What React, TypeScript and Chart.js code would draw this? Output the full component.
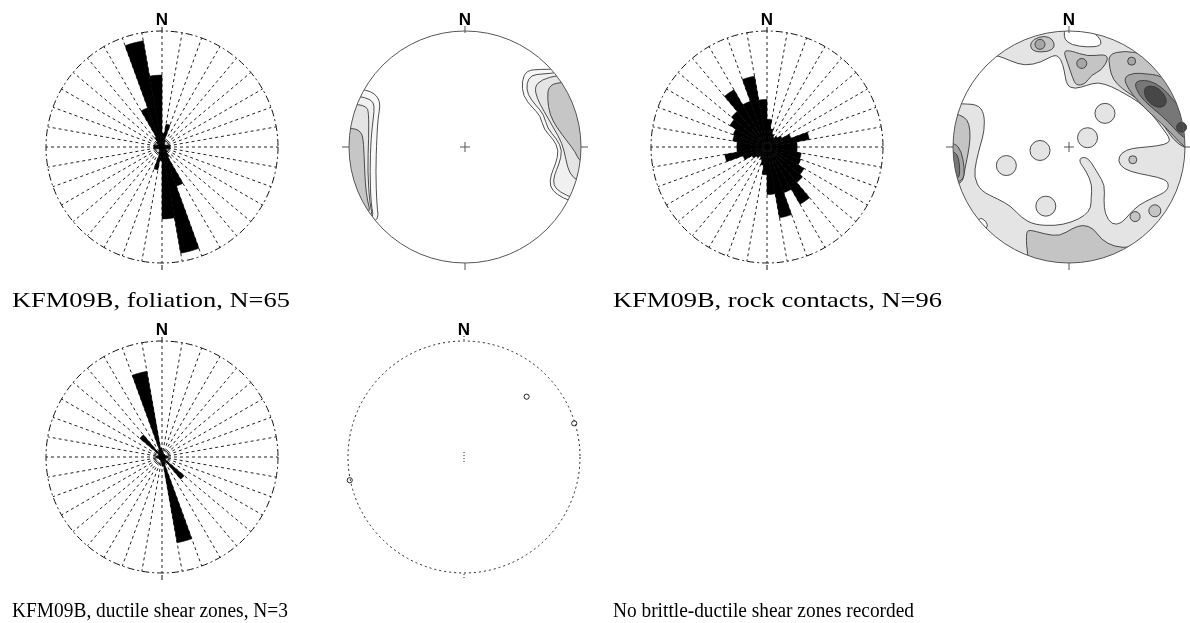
import { useEffect, useRef } from 'react';
import { Chart, registerables } from 'chart.js';

Chart.register(...registerables);

// 10° strike classes from 0° to 170°; each class is drawn again 180° opposite.
const strikeClasses = [0, 10, 20, 30, 40, 50, 60, 70, 80, 90, 100, 110, 120, 130, 140, 150, 160, 170];
const roseLabels = [...strikeClasses, ...strikeClasses.map((s) => s + 180)].map((s) => `${s}–${s + 10}°`);

// Relative class lengths (1 = outer circle), one per strike class above.
const foliationRose = [0.12, 0.2, 0.06, 0.04, 0.03, 0.03, 0.04, 0.05, 0.07, 0.07, 0.05, 0.04, 0.05, 0.06, 0.1, 0.36, 0.93, 0.62];
const rockContactRose = [0.24, 0.16, 0.12, 0.1, 0.12, 0.15, 0.22, 0.37, 0.26, 0.26, 0.3, 0.31, 0.37, 0.4, 0.57, 0.42, 0.62, 0.41];
const ductileShearRose = [0.05, 0.04, 0.03, 0.03, 0.03, 0.03, 0.03, 0.04, 0.05, 0.05, 0.04, 0.03, 0.04, 0.25, 0.05, 0.06, 0.75, 0.08];

// Contour shades, lowest to highest density.
const shade1 = ['#f8f8f8', '#f0f0f0', '#e4e4e4', '#c6c6c6'];
const shade2 = ['#e4e4e4', '#c4c4c4', '#a6a6a6', '#777777', '#474747'];

// Pole density contours, foliation (x = east, y = north, unit circle).
const foliationEast1 = [[0.85, 0.75], [0.79, 0.67], [0.65, 0.67], [0.53, 0.66], [0.49, 0.57], [0.5, 0.44], [0.58, 0.34], [0.65, 0.27], [0.68, 0.15], [0.76, 0.07], [0.81, -0.03], [0.78, -0.15], [0.74, -0.24], [0.73, -0.34], [0.79, -0.41], [0.91, -0.47], [1.1, -0.5], [1.1, 0.75]];
const foliationEast2 = [[0.86, 0.7], [0.8, 0.64], [0.67, 0.63], [0.57, 0.62], [0.53, 0.55], [0.54, 0.45], [0.61, 0.36], [0.68, 0.28], [0.71, 0.16], [0.79, 0.07], [0.84, -0.03], [0.81, -0.15], [0.77, -0.24], [0.76, -0.33], [0.82, -0.39], [0.93, -0.44], [1.1, -0.5], [1.1, 0.7]];
const foliationEast3 = [[0.8, 0.62], [0.66, 0.58], [0.6, 0.52], [0.62, 0.42], [0.68, 0.31], [0.76, 0.17], [0.84, 0.03], [0.87, -0.11], [0.9, -0.23], [0.98, -0.3], [1.1, -0.3], [1.1, 0.62]];
const foliationEast4 = [[0.8, 0.56], [0.72, 0.52], [0.71, 0.42], [0.73, 0.28], [0.79, 0.17], [0.88, 0.05], [0.95, -0.04], [0.99, -0.13], [1.1, -0.15], [1.1, 0.56]];
const foliationWest1 = [[-1.1, 0.55], [-0.91, 0.5], [-0.81, 0.48], [-0.75, 0.43], [-0.73, 0.36], [-0.75, 0.25], [-0.76, 0.08], [-0.77, -0.21], [-0.76, -0.5], [-0.74, -0.66], [-1.1, -0.7]];
const foliationWest2 = [[-1.1, 0.46], [-0.92, 0.44], [-0.81, 0.41], [-0.78, 0.36], [-0.79, 0.25], [-0.81, 0.08], [-0.82, -0.21], [-0.81, -0.5], [-0.78, -0.64], [-1.1, -0.66]];
const foliationWest3 = [[-1.1, 0.38], [-0.94, 0.37], [-0.85, 0.35], [-0.83, 0.3], [-0.83, 0.08], [-0.84, -0.21], [-0.82, -0.5], [-0.79, -0.61], [-1.1, -0.64]];
const foliationWest4 = [[-1.1, 0.17], [-0.98, 0.16], [-0.92, 0.15], [-0.88, 0.1], [-0.87, -0.06], [-0.86, -0.32], [-0.84, -0.47], [-0.81, -0.58], [-1.1, -0.62]];

// Pole density contours, rock contacts.
const contactBase = [[-1.2, -1.2], [1.2, -1.2], [1.2, 1.2], [-1.2, 1.2]];
const contactEmpty = [[-1.1, 0.4], [-0.96, 0.37], [-0.79, 0.37], [-0.73, 0.29], [-0.73, 0.14], [-0.76, 0.03], [-0.8, -0.12], [-0.82, -0.26], [-0.76, -0.38], [-0.61, -0.45], [-0.5, -0.51], [-0.41, -0.61], [-0.3, -0.67], [-0.12, -0.68], [0.02, -0.65], [0.14, -0.59], [0.19, -0.52], [0.19, -0.44], [0.2, -0.33], [0.15, -0.21], [0.09, -0.13], [0.1, -0.09], [0.15, -0.09], [0.19, -0.13], [0.25, -0.23], [0.31, -0.33], [0.3, -0.46], [0.31, -0.58], [0.37, -0.67], [0.45, -0.66], [0.52, -0.58], [0.6, -0.5], [0.72, -0.44], [0.85, -0.38], [0.86, -0.3], [0.77, -0.26], [0.6, -0.23], [0.47, -0.19], [0.42, -0.12], [0.45, -0.05], [0.54, -0.01], [0.68, 0.0], [0.83, 0.02], [0.88, 0.06], [0.8, 0.17], [0.71, 0.29], [0.6, 0.39], [0.48, 0.46], [0.37, 0.52], [0.25, 0.56], [0.15, 0.53], [0.05, 0.5], [-0.02, 0.53], [-0.04, 0.66], [-0.07, 0.76], [-0.12, 0.8], [-0.24, 0.73], [-0.38, 0.7], [-0.5, 0.74], [-0.64, 0.8], [-0.75, 0.75], [-1.1, 0.6]];
const contactEmptyNorth = [[-0.04, 0.98], [-0.04, 0.93], [0.02, 0.88], [0.16, 0.86], [0.27, 0.87], [0.28, 0.92], [0.22, 0.98], [0.1, 1.1], [-0.04, 1.1]];
const contactEmptyWest = [[-0.78, -0.6], [-0.71, -0.64], [-0.7, -0.7], [-0.8, -0.75]];
const contactNorthWest2 = [[-0.34, 0.87], [-0.31, 0.93], [-0.21, 0.96], [-0.14, 0.93], [-0.12, 0.86], [-0.18, 0.82], [-0.3, 0.82]];
const contactNorth2 = [[-0.05, 0.83], [0.02, 0.83], [0.16, 0.78], [0.31, 0.8], [0.34, 0.76], [0.28, 0.66], [0.19, 0.62], [0.14, 0.54], [0.06, 0.53], [0.03, 0.6], [-0.01, 0.72]];
const contactNorthEast2 = [[0.34, 0.8], [0.48, 0.83], [0.65, 0.8], [0.8, 0.75], [1.1, 0.4], [1.1, -0.05], [0.94, 0.02], [0.86, 0.12], [0.78, 0.24], [0.68, 0.34], [0.57, 0.43], [0.46, 0.5], [0.38, 0.58], [0.35, 0.68]];
const contactNorthEast3 = [[0.47, 0.6], [0.56, 0.64], [0.66, 0.63], [0.78, 0.62], [1.1, 0.45], [1.1, -0.05], [0.99, 0.0], [0.9, 0.1], [0.8, 0.2], [0.69, 0.3], [0.6, 0.39], [0.51, 0.5]];
const contactNorthEast4 = [[0.56, 0.56], [0.65, 0.58], [0.75, 0.55], [0.85, 0.47], [0.93, 0.36], [1.1, 0.25], [1.1, 0.05], [0.98, 0.08], [0.9, 0.17], [0.8, 0.27], [0.7, 0.35], [0.6, 0.45]];
const contactNorthEast5 = [[0.65, 0.52], [0.74, 0.53], [0.82, 0.46], [0.85, 0.38], [0.79, 0.33], [0.7, 0.37], [0.65, 0.44]];
const contactWest2 = [[-1.1, 0.32], [-0.99, 0.29], [-0.9, 0.26], [-0.86, 0.2], [-0.85, 0.08], [-0.87, -0.06], [-0.9, -0.2], [-0.92, -0.32], [-1.1, -0.36]];
const contactWest3 = [[-1.1, 0.05], [-0.98, 0.03], [-0.93, -0.03], [-0.9, -0.18], [-0.91, -0.3], [-1.1, -0.33]];
const contactWest4 = [[-1.1, -0.01], [-0.98, -0.04], [-0.95, -0.1], [-0.94, -0.2], [-0.95, -0.28], [-1.1, -0.3]];
const contactSouth2 = [[-0.37, -0.75], [-0.35, -0.71], [-0.21, -0.75], [-0.08, -0.77], [0.03, -0.7], [0.12, -0.67], [0.21, -0.7], [0.28, -0.8], [0.39, -0.86], [0.54, -0.87], [0.68, -0.8], [0.83, -0.68], [0.94, -0.61], [1.1, -0.6], [1.0, -1.1], [-0.3, -1.1], [-0.36, -0.95]];

// Small isolated maxima: [east, north, radius px, shade index]
const contactSpots = [
  [0.31, 0.29, 10, 0], [0.16, 0.08, 10, 0], [-0.25, -0.03, 10, 0], [-0.54, -0.16, 10, 0], [-0.2, -0.51, 10, 0],
  [-0.25, 0.885, 5, 2], [0.11, 0.72, 5, 2], [0.54, 0.74, 4, 2], [0.97, 0.17, 5, 4],
  [0.55, -0.11, 4, 1], [0.57, -0.6, 5, 1], [0.74, -0.55, 6, 1],
];

// Poles to ductile shear zones: [east, north]
const ductilePoles = [[0.54, 0.52], [-0.985, -0.2], [0.95, 0.29]];

const captionTexts = [
  'KFM09B, foliation, N=65',
  'KFM09B, rock contacts, N=96',
  'KFM09B, ductile shear zones, N=3',
  'No brittle-ductile shear zones recorded',
];

const NORTH_FONT = 'bold 17px "Liberation Sans", Arial, sans-serif';

const roseNorth = {
  id: 'roseNorth',
  afterDraw(chart: any) {
    const r = chart.scales.r;
    const { ctx } = chart;
    const cx = r.xCenter;
    const cy = r.yCenter;
    const R = r.drawingArea;
    ctx.save();
    ctx.strokeStyle = '#111';
    ctx.lineWidth = 1;
    ctx.beginPath();
    ctx.moveTo(cx, cy - R - 4);
    ctx.lineTo(cx, cy - R);
    ctx.moveTo(cx, cy + R + 2);
    ctx.lineTo(cx, cy + R + 7);
    ctx.stroke();
    ctx.fillStyle = '#000';
    ctx.font = NORTH_FONT;
    ctx.textAlign = 'center';
    ctx.textBaseline = 'alphabetic';
    ctx.fillText('N', cx, cy - R - 6);
    ctx.restore();
  },
};

function roseConfig(classes: number[]): any {
  return {
    type: 'polarArea',
    data: {
      labels: roseLabels,
      datasets: [{ data: [...classes, ...classes], backgroundColor: '#000', borderColor: '#000', borderWidth: 0.5 }],
    },
    options: {
      responsive: false,
      animation: false,
      devicePixelRatio: 1,
      events: [],
      layout: { padding: 24 },
      plugins: { legend: { display: false }, tooltip: { enabled: false } },
      scales: {
        r: {
          min: 0,
          max: 1,
          ticks: { display: false, stepSize: 1 },
          pointLabels: { display: false },
          grid: { circular: true, color: '#111', lineWidth: 1 },
          border: { dash: [7, 3, 2, 3] },
          angleLines: { display: true, color: '#222', lineWidth: 1, borderDash: [3, 3] },
        },
      },
    },
    plugins: [roseNorth],
  };
}

function traceSmooth(ctx: CanvasRenderingContext2D, pts: { x: number; y: number }[]) {
  const n = pts.length;
  const mid = (a: any, b: any) => ({ x: (a.x + b.x) / 2, y: (a.y + b.y) / 2 });
  const s = mid(pts[n - 1], pts[0]);
  ctx.moveTo(s.x, s.y);
  for (let i = 0; i < n; i++) {
    const p = pts[i];
    const m = mid(p, pts[(i + 1) % n]);
    ctx.quadraticCurveTo(p.x, p.y, m.x, m.y);
  }
  ctx.closePath();
}

function stereonetFrame(dashed: boolean) {
  return {
    id: 'stereonetFrame',
    beforeDatasetsDraw(chart: any) {
      const { ctx } = chart;
      const xs = chart.scales.x;
      const ys = chart.scales.y;
      const cx = xs.getPixelForValue(0);
      const cy = ys.getPixelForValue(0);
      const R = xs.getPixelForValue(1) - cx;
      ctx.save();
      ctx.beginPath();
      ctx.arc(cx, cy, R, 0, Math.PI * 2);
      ctx.clip();
      chart.data.datasets.forEach((ds: any, i: number) => {
        if (!ds.contourFill) return;
        const pts = chart.getDatasetMeta(i).data.map((p: any) => ({ x: p.x, y: p.y }));
        ctx.beginPath();
        traceSmooth(ctx, pts);
        ctx.fillStyle = ds.contourFill;
        ctx.fill();
        if (ds.contourLine) {
          ctx.strokeStyle = '#3a3a3a';
          ctx.lineWidth = 0.9;
          ctx.stroke();
        }
      });
      ctx.restore();
    },
    afterDatasetsDraw(chart: any) {
      const { ctx } = chart;
      const xs = chart.scales.x;
      const ys = chart.scales.y;
      const cx = xs.getPixelForValue(0);
      const cy = ys.getPixelForValue(0);
      const R = xs.getPixelForValue(1) - cx;
      ctx.save();
      ctx.lineWidth = 1;
      ctx.strokeStyle = dashed ? '#222' : '#555';
      ctx.setLineDash(dashed ? [2, 3] : []);
      ctx.beginPath();
      ctx.arc(cx, cy, R, 0, Math.PI * 2);
      ctx.stroke();
      ctx.beginPath();
      if (dashed) {
        ctx.setLineDash([1, 2]);
        ctx.moveTo(cx, cy - R - 5);
        ctx.lineTo(cx, cy - R);
        ctx.moveTo(cx, cy + R + 1);
        ctx.lineTo(cx, cy + R + 6);
        ctx.moveTo(cx, cy - 5);
        ctx.lineTo(cx, cy + 5);
      } else {
        ctx.moveTo(cx, cy - R - 5);
        ctx.lineTo(cx, cy - R + 2);
        ctx.moveTo(cx, cy + R);
        ctx.lineTo(cx, cy + R + 7);
        ctx.moveTo(cx - R - 7, cy);
        ctx.lineTo(cx - R, cy);
        ctx.moveTo(cx + R, cy);
        ctx.lineTo(cx + R + 7, cy);
        ctx.moveTo(cx - 5, cy);
        ctx.lineTo(cx + 5, cy);
        ctx.moveTo(cx, cy - 5);
        ctx.lineTo(cx, cy + 5);
      }
      ctx.stroke();
      ctx.setLineDash([]);
      ctx.fillStyle = '#000';
      ctx.font = NORTH_FONT;
      ctx.textAlign = 'center';
      ctx.textBaseline = 'alphabetic';
      ctx.fillText('N', cx, cy - R - 6);
      ctx.restore();
    },
  };
}

function stereonetConfig(contours: [number[][], string, boolean][], spots: any[], dashed: boolean): any {
  const datasets = [
    ...contours.map(([pts, fill, line]) => ({
      data: pts.map(([x, y]) => ({ x, y })),
      contourFill: fill,
      contourLine: line,
      pointRadius: 0,
      showLine: false,
    })),
    ...spots.map((s, i) => ({
      data: [{ x: s.x, y: s.y }],
      pointRadius: s.r,
      pointBackgroundColor: s.fill,
      pointBorderColor: s.stroke,
      pointBorderWidth: 0.9,
      clip: false,
      order: spots.length - i,
    })),
  ];
  return {
    type: 'scatter',
    data: { datasets },
    options: {
      responsive: false,
      animation: false,
      devicePixelRatio: 1,
      events: [],
      layout: { padding: 24 },
      plugins: { legend: { display: false }, tooltip: { enabled: false } },
      scales: {
        x: { type: 'linear', min: -1, max: 1, display: false },
        y: { type: 'linear', min: -1, max: 1, display: false },
      },
    },
    plugins: [stereonetFrame(dashed)],
  };
}

const foliationNet = stereonetConfig(
  [
    [foliationEast1, shade1[0], true],
    [foliationEast2, shade1[1], true],
    [foliationEast3, shade1[2], true],
    [foliationEast4, shade1[3], true],
    [foliationWest1, shade1[0], true],
    [foliationWest2, shade1[1], true],
    [foliationWest3, shade1[2], true],
    [foliationWest4, shade1[3], true],
  ],
  [],
  false,
);

const contactNet = stereonetConfig(
  [
    [contactBase, shade2[0], false],
    [contactEmpty, '#ffffff', true],
    [contactEmptyNorth, '#ffffff', true],
    [contactEmptyWest, '#ffffff', true],
    [contactNorthWest2, shade2[1], true],
    [contactNorth2, shade2[1], true],
    [contactNorthEast2, shade2[1], true],
    [contactNorthEast3, shade2[2], true],
    [contactNorthEast4, shade2[3], true],
    [contactNorthEast5, shade2[4], true],
    [contactWest2, shade2[1], true],
    [contactWest3, shade2[2], true],
    [contactWest4, shade2[3], true],
    [contactSouth2, shade2[1], true],
  ],
  contactSpots.map(([x, y, r, k]) => ({ x, y, r, fill: shade2[k], stroke: '#3a3a3a' })),
  false,
);

const ductileNet = stereonetConfig(
  [],
  ductilePoles.map(([x, y]) => ({ x, y, r: 2.6, fill: '#ffffff', stroke: '#111' })),
  true,
);

function ChartCanvas({ config, left, top }: { config: any; left: number; top: number }) {
  const ref = useRef<HTMLCanvasElement>(null);
  useEffect(() => {
    const chart = new Chart(ref.current as HTMLCanvasElement, config);
    return () => chart.destroy();
  }, [config]);
  return (
    <canvas
      ref={ref}
      width={280}
      height={280}
      style={{ position: 'absolute', left, top, width: 280, height: 280 }}
    />
  );
}

const serif = "'Liberation Serif', 'Times New Roman', serif";

export default function App() {
  return (
    <div style={{ position: 'absolute', left: 0, top: 0, width: 1190, height: 623, overflow: 'hidden', background: '#fff' }}>
      <ChartCanvas config={roseConfig(foliationRose)} left={22} top={7} />
      <ChartCanvas config={foliationNet} left={325} top={7} />
      <ChartCanvas config={roseConfig(rockContactRose)} left={627} top={7} />
      <ChartCanvas config={contactNet} left={929} top={7} />
      <ChartCanvas config={roseConfig(ductileShearRose)} left={22} top={317} />
      <ChartCanvas config={ductileNet} left={324} top={317} />
      <svg width={1190} height={623} style={{ position: 'absolute', left: 0, top: 0 }}>
        <text x={12} y={307} fontFamily={serif} fontSize={21} textLength={278} lengthAdjust="spacingAndGlyphs">{captionTexts[0]}</text>
        <text x={613} y={307} fontFamily={serif} fontSize={21} textLength={329} lengthAdjust="spacingAndGlyphs">{captionTexts[1]}</text>
        <text x={12} y={617} fontFamily={serif} fontSize={20} textLength={276} lengthAdjust="spacingAndGlyphs">{captionTexts[2]}</text>
        <text x={613} y={617} fontFamily={serif} fontSize={20} textLength={301} lengthAdjust="spacingAndGlyphs">{captionTexts[3]}</text>
      </svg>
    </div>
  );
}
